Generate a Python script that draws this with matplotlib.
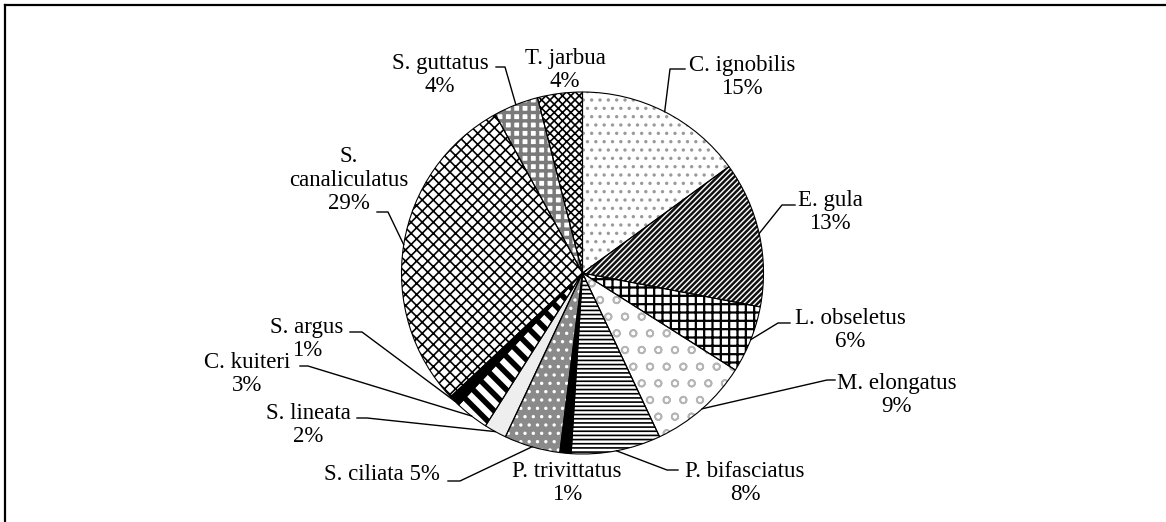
import numpy as np
import matplotlib
matplotlib.use('Agg')
import matplotlib.pyplot as plt

plt.rcParams['font.family'] = ['Liberation Serif', 'DejaVu Serif']
plt.rcParams['hatch.linewidth'] = 1.2

# data: share of catch per species (%)
species = ['C. ignobilis', 'E. gula', 'L. obseletus', 'M. elongatus', 'P. bifasciatus',
           'P. trivittatus', 'S. ciliata', 'S. lineata', 'C. kuiteri', 'S. argus',
           'S. canaliculatus', 'S. guttatus', 'T. jarbua']
shares = [15, 13, 6, 9, 8, 1, 5, 2, 3, 1, 29, 4, 4]

# fill style per wedge: (face colour, hatch colour, hatch, hatch width)
styles = [('white', '#9a9a9a', '..', 1.2),
          ('white', '#111111', '//////', 1.8),
          ('white', 'black', '++', 1.6),
          ('white', '#b5b5b5', 'o', 1.2),
          ('white', 'black', '----', 1.2),
          ('black', 'black', '', 1.0),
          ('#8a8a8a', 'white', '..', 1.2),
          ('#eeeeee', '#eeeeee', '', 1.0),
          ('white', 'black', '\\\\', 4.0),
          ('black', 'black', '', 1.0),
          ('white', 'black', 'xxx', 1.2),
          ('white', '#7a7a7a', '++', 2.5),
          ('white', 'black', 'xxxx', 1.2)]

H = 522  # figure height in px, labels below are given as screen rows
# label layout: text centre, leader elbow, leader end (None = no leader)
layout = [((742, 77), (670, 69), 685),
          ((830, 212), (782, 205), 795),
          ((850, 330), (778, 323), 790),
          ((897, 395), (827, 380), 835),
          ((745, 483), (667, 470), 678),
          ((567, 483), None, None),
          ((382, 474), (460, 481), 448),
          ((308, 425), (367, 418), 357),
          ((247, 374), (308, 366), 300),
          ((307, 339), (362, 332), 350),
          ((349, 180), (388, 212), 377),
          ((440, 75), (505, 67), 496),
          ((565, 70), None, None)]

fig = plt.figure(figsize=(11.66, 5.22), dpi=100)
ax = fig.add_axes([0, 0, 1, 1])

cx, cy, r = 582.5, H - 273, 181

# pass 1: fills and hatches (hatch takes the edge colour)
wedges, _ = ax.pie(shares, startangle=90, counterclock=False, center=(cx, cy), radius=r,
                   frame=True, wedgeprops=dict(linewidth=0))
for w, (fc, hc, hatch, hw) in zip(wedges, styles):
    w.set_facecolor(fc)
    w.set_edgecolor(hc)
    w.set_hatch(hatch)
    if hasattr(w, 'set_hatch_linewidth'):
        w.set_hatch_linewidth(hw)

# pass 2: outlines
ax.pie(shares, startangle=90, counterclock=False, center=(cx, cy), radius=r,
       frame=True, wedgeprops=dict(facecolor='none', edgecolor='black', linewidth=0.8))
ax.set_xlim(0, 1166)
ax.set_ylim(0, H)
ax.set_aspect('auto')
ax.axis('off')

for w, name, val, (txt, elbow, hx) in zip(wedges, species, shares, layout):
    if name == 'S. ciliata':
        label = f'{name} {val}%'
    elif name == 'S. canaliculatus':
        label = f'S.\ncanaliculatus\n{val}%'
    else:
        label = f'{name}\n{val}%'
    ax.text(txt[0], H - txt[1], label, ha='center', va='center', fontsize=16.5,
            linespacing=1.15)
    if elbow is not None:
        mid = np.deg2rad((w.theta1 + w.theta2) / 2)
        px, py = cx + r * np.cos(mid), cy + r * np.sin(mid)
        ax.plot([px, elbow[0], hx], [py, H - elbow[1], H - elbow[1]], color='black', lw=1)

# border (top and left only, as in the source)
ax.plot([5, 5], [0, H - 5], color='black', lw=1.6, solid_capstyle='projecting')
ax.plot([5, 1166], [H - 5, H - 5], color='black', lw=1.6, solid_capstyle='projecting')

fig.savefig('out.png', dpi=100, facecolor='white')
